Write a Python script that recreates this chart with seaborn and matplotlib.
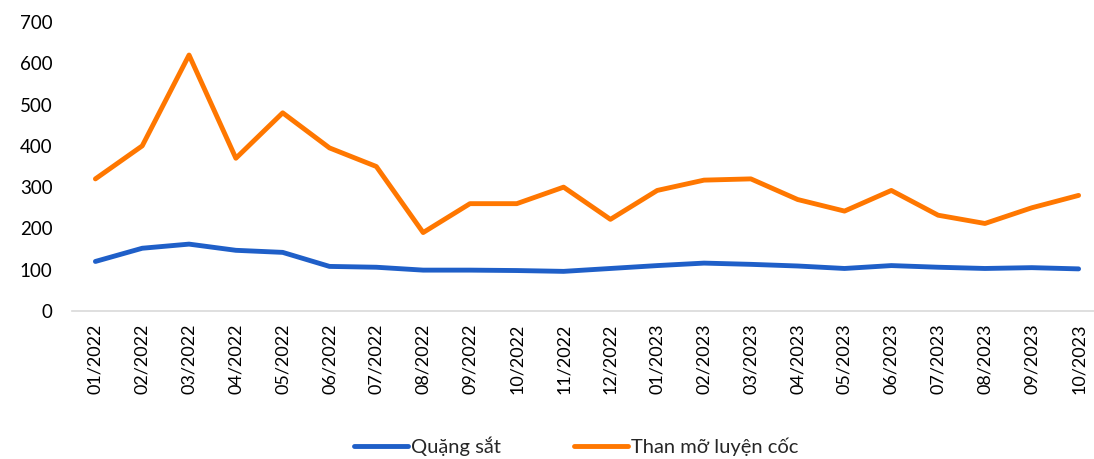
import pandas as pd
import matplotlib.pyplot as plt
import seaborn as sns

# Data
months = ["01/2022", "02/2022", "03/2022", "04/2022", "05/2022", "06/2022",
          "07/2022", "08/2022", "09/2022", "10/2022", "11/2022", "12/2022",
          "01/2023", "02/2023", "03/2023", "04/2023", "05/2023", "06/2023",
          "07/2023", "08/2023", "09/2023", "10/2023"]
quang_sat = [120, 152, 162, 147, 142, 108, 106, 99, 99, 98, 96, 103,
             110, 116, 113, 109, 103, 110, 106, 103, 105, 102]
than_mo = [320, 400, 620, 370, 480, 395, 350, 190, 260, 260, 300, 222,
           292, 317, 320, 270, 242, 292, 232, 212, 250, 280]

series_names = ["Quặng sắt", "Than mỡ luyện cốc"]
colors = ["#1F5FC8", "#FF7700"]

df = pd.DataFrame({"month": months, series_names[0]: quang_sat, series_names[1]: than_mo})
long_df = df.melt(id_vars="month", var_name="series", value_name="value")
long_df["pos"] = long_df["month"].map({m: i for i, m in enumerate(months)})

sns.set_style("white")
plt.rcParams["font.family"] = ["Lato", "DejaVu Sans"]

fig = plt.figure(figsize=(10.94, 4.59), dpi=100)
ax = fig.add_axes([72 / 1094, 148 / 459, 1030 / 1094, 289 / 459])

sns.lineplot(data=long_df, x="pos", y="value", hue="series",
             hue_order=series_names, palette=colors, linewidth=3.5,
             ax=ax, legend=False)

ax.set_xlim(-0.5, len(months) - 0.5)
ax.set_ylim(0, 700)
ax.set_yticks(range(0, 701, 100))
ax.set_xticks(range(len(months)))
ax.set_xticklabels(months, rotation=90, fontsize=13)
ax.tick_params(axis="x", length=0, pad=9)
ax.set_xticks([i - 0.5 for i in range(len(months) + 1)], minor=True)
ax.tick_params(axis="x", which="minor", length=8, color="#D9D9D9", width=1.2)
ax.tick_params(axis="y", length=0, labelsize=13.5, pad=14)
for lab in ax.get_xticklabels() + ax.get_yticklabels():
    lab.set_color("#000000")

for side in ["top", "right", "left"]:
    ax.spines[side].set_visible(False)
ax.spines["bottom"].set_color("#D9D9D9")
ax.spines["bottom"].set_linewidth(1.2)
ax.set_xlabel("")
ax.set_ylabel("")

handles = [plt.Line2D([], [], color=c, linewidth=3.5) for c in colors]
fig.legend(handles, series_names, loc="center", bbox_to_anchor=(576 / 1094, 1 - 446 / 459),
           ncol=2, frameon=False, fontsize=14.5, handlelength=2.7, handletextpad=0.15,
           columnspacing=3.6)

fig.savefig("out.png", dpi=100)
